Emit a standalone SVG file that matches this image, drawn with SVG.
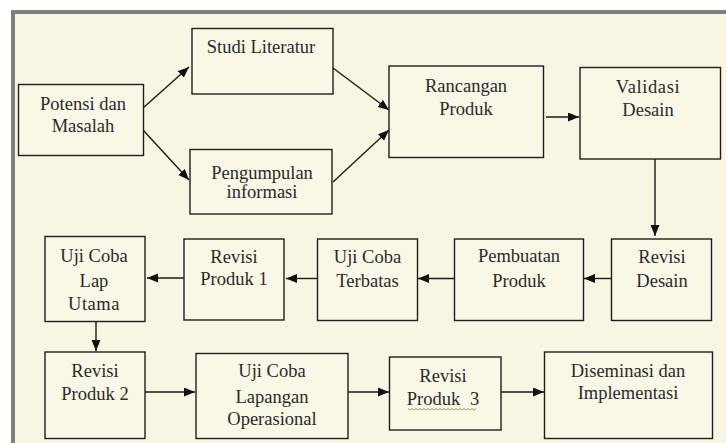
<svg xmlns="http://www.w3.org/2000/svg" width="726" height="443" viewBox="0 0 726 443">
<style>
.box{fill:#f9f7e6;stroke:#1e1e1e;stroke-width:1.4}
.t{font-family:'Liberation Serif','Times New Roman',serif;font-size:18.5px;fill:#2a2a2a;text-anchor:middle}
.c{stroke:#1a1a1a;stroke-width:1.4;fill:none;marker-end:url(#ah)}
</style>
<defs>
<marker id="ah" markerUnits="userSpaceOnUse" markerWidth="12" markerHeight="10" refX="11" refY="4.5" orient="auto">
<path d="M0,0 L11,4.5 L0,9 z" fill="#111"/>
</marker>
</defs>
<rect x="0" y="0" width="726" height="443" fill="#ffffff"/>
<rect x="13" y="12" width="730" height="450" fill="#f8f6e3" stroke="#7f7f7f" stroke-width="4"/>

<g id="connectors">
<line class="c" x1="143" y1="108" x2="189" y2="67"/>
<line class="c" x1="143" y1="130" x2="189" y2="180"/>
<line class="c" x1="333" y1="68" x2="389" y2="110"/>
<line class="c" x1="333" y1="182" x2="389" y2="130"/>
<line class="c" x1="546" y1="117" x2="579" y2="117"/>
<line class="c" x1="655" y1="159" x2="655" y2="236"/>
<line class="c" x1="612" y1="278.5" x2="584" y2="278.5"/>
<line class="c" x1="454" y1="278.5" x2="418" y2="278.5"/>
<line class="c" x1="317" y1="278.5" x2="286" y2="278.5"/>
<line class="c" x1="184" y1="278" x2="147" y2="278"/>
<line class="c" x1="96" y1="322" x2="96" y2="351"/>
<line class="c" x1="145" y1="392" x2="195" y2="392"/>
<line class="c" x1="348" y1="392" x2="389" y2="392"/>
<line class="c" x1="501" y1="392" x2="544" y2="392"/>
</g>

<g id="potensi">
<rect class="box" x="18.5" y="84.5" width="125" height="71"/>
<text class="t" x="83" y="110">Potensi dan</text>
<text class="t" x="83" y="132">Masalah</text>
</g>
<g id="studi">
<rect class="box" x="192" y="28.5" width="141" height="65.5"/>
<text class="t" x="261" y="53">Studi Literatur</text>
</g>
<g id="pengumpulan">
<rect class="box" x="190" y="149.5" width="142" height="64.5"/>
<text class="t" x="262" y="179">Pengumpulan</text>
<text class="t" x="262" y="198">informasi</text>
</g>
<g id="rancangan">
<rect class="box" x="389" y="66" width="154.5" height="91.5"/>
<text class="t" x="466" y="92">Rancangan</text>
<text class="t" x="466" y="115">Produk</text>
</g>
<g id="validasi">
<rect class="box" x="580" y="67.5" width="140.5" height="91.5"/>
<text class="t" x="648" y="93" letter-spacing="0.6">Validasi</text>
<text class="t" x="648" y="116">Desain</text>
</g>
<g id="revisi-desain">
<rect class="box" x="611.5" y="239" width="100" height="81.5"/>
<text class="t" x="662" y="263">Revisi</text>
<text class="t" x="662" y="287">Desain</text>
</g>
<g id="pembuatan">
<rect class="box" x="454.5" y="239" width="129" height="81.5"/>
<text class="t" x="519" y="262">Pembuatan</text>
<text class="t" x="519" y="287">Produk</text>
</g>
<g id="uji-terbatas">
<rect class="box" x="317.5" y="239" width="100" height="81.5"/>
<text class="t" x="367.5" y="263">Uji Coba</text>
<text class="t" x="367.5" y="287">Terbatas</text>
</g>
<g id="revisi-1">
<rect class="box" x="184" y="239" width="100" height="81"/>
<text class="t" x="234" y="263">Revisi</text>
<text class="t" x="234" y="285">Produk 1</text>
</g>
<g id="uji-lap-utama">
<rect class="box" x="45" y="236.5" width="100" height="85"/>
<text class="t" x="94" y="262">Uji Coba</text>
<text class="t" x="94" y="287">Lap</text>
<text class="t" x="94" y="310" letter-spacing="0.5">Utama</text>
</g>
<g id="revisi-2">
<rect class="box" x="45" y="352" width="100" height="86.5"/>
<text class="t" x="95" y="377">Revisi</text>
<text class="t" x="95" y="400">Produk 2</text>
</g>
<g id="uji-lapangan">
<rect class="box" x="196" y="353.5" width="152" height="85"/>
<text class="t" x="272" y="377">Uji Coba</text>
<text class="t" x="272" y="403">Lapangan</text>
<text class="t" x="272" y="425">Operasional</text>
</g>
<g id="revisi-3">
<rect class="box" x="389.5" y="357" width="111.5" height="73"/>
<text class="t" x="443" y="382">Revisi</text>
<text class="t" x="443" y="405" word-spacing="5">Produk 3</text>
<path d="M408,408.5 l2,1.5 l2,-1.5 l2,1.5 l2,-1.5 l2,1.5 l2,-1.5 l2,1.5 l2,-1.5 l2,1.5 l2,-1.5 l2,1.5 l2,-1.5 l2,1.5 l2,-1.5 l2,1.5 l2,-1.5 l2,1.5 l2,-1.5 l2,1.5 l2,-1.5 l2,1.5 l2,-1.5 l2,1.5 l2,-1.5 l2,1.5 l2,-1.5 l2,1.5 l2,-1.5 l2,1.5 l2,-1.5 l2,1.5 l2,-1.5 l2,1.5 l2,-1.5" fill="none" stroke="#7aa04a" stroke-width="0.9"/>
</g>
<g id="diseminasi">
<rect class="box" x="544.5" y="352" width="168" height="86.5"/>
<text class="t" x="628" y="377">Diseminasi dan</text>
<text class="t" x="628" y="399">Implementasi</text>
</g>
</svg>
